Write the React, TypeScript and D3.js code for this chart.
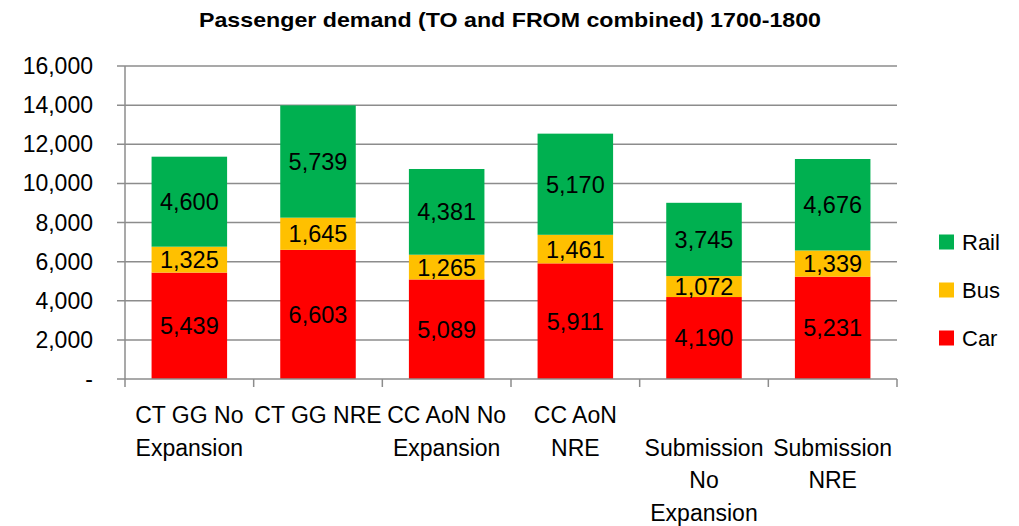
import React, { useEffect, useRef } from "react";
import * as d3 from "d3";

const categories = [
  "CT GG No Expansion",
  "CT GG NRE",
  "CC AoN No Expansion",
  "CC AoN NRE",
  "Submission No Expansion",
  "Submission NRE",
];
const categoryLines = [
  ["CT GG No", "Expansion"],
  ["CT GG NRE"],
  ["CC AoN No", "Expansion"],
  ["CC AoN", "NRE"],
  ["Submission", "No", "Expansion"],
  ["Submission", "NRE"],
];
const categoryLineOffset = [0, 0, 0, 0, 1, 1];
const seriesNames = ["Car", "Bus", "Rail"];
const carValues = [5439, 6603, 5089, 5911, 4190, 5231];
const busValues = [1325, 1645, 1265, 1461, 1072, 1339];
const railValues = [4600, 5739, 4381, 5170, 3745, 4676];
const seriesColors = ["#FF0000", "#FFC000", "#00B050"];
const yTicks = [0, 2000, 4000, 6000, 8000, 10000, 12000, 14000, 16000];
const title = "Passenger demand (TO and FROM combined) 1700-1800";

export default function App() {
  const ref = useRef<SVGSVGElement>(null);
  useEffect(() => {
    const W = 1019, H = 526;
    const left = 125, right = 897, top = 66, bottom = 379;
    const font = "'Liberation Sans', Arial, sans-serif";
    const svg = d3.select(ref.current!);
    svg.selectAll("*").remove();
    svg.append("rect").attr("width", W).attr("height", H).attr("fill", "#fff");

    const x = d3.scaleBand<string>().domain(categories).range([left, right]).padding(0);
    const y = d3.scaleLinear().domain([0, 16000]).range([bottom, top]);
    const grid = "#8c8c8c";

    // gridlines
    svg.append("g").selectAll("line").data(yTicks.filter((t) => t > 0)).join("line")
      .attr("x1", left - 8).attr("x2", right)
      .attr("y1", (d) => y(d)).attr("y2", (d) => y(d))
      .attr("stroke", grid).attr("stroke-width", 1.5);

    // y axis
    svg.append("line").attr("x1", left).attr("x2", left).attr("y1", top).attr("y2", bottom)
      .attr("stroke", grid).attr("stroke-width", 1.5);
    svg.append("line").attr("x1", left - 8).attr("x2", left).attr("y1", bottom).attr("y2", bottom)
      .attr("stroke", grid).attr("stroke-width", 1.5);
    svg.append("g").selectAll("text").data(yTicks).join("text")
      .attr("x", 93).attr("y", (d) => y(d)).attr("dy", "0.35em")
      .attr("text-anchor", "end").attr("font-family", font).attr("font-size", 23)
      .attr("fill", "#000")
      .text((d) => (d === 0 ? "-" : d3.format(",")(d)));

    // stacked bars
    const rows = categories.map((c, i) => ({ cat: c, Car: carValues[i], Bus: busValues[i], Rail: railValues[i] }));
    const stack = d3.stack<any>().keys(seriesNames)(rows);
    const bw = x.bandwidth() * 0.587;
    stack.forEach((layer, si) => {
      const g = svg.append("g");
      g.selectAll("rect").data(layer).join("rect")
        .attr("x", (d: any) => x(d.data.cat)! + (x.bandwidth() - bw) / 2)
        .attr("width", bw)
        .attr("y", (d: any) => y(d[1]))
        .attr("height", (d: any) => y(d[0]) - y(d[1]))
        .attr("fill", seriesColors[si]);
      g.selectAll("text").data(layer).join("text")
        .attr("x", (d: any) => x(d.data.cat)! + x.bandwidth() / 2)
        .attr("y", (d: any) => (y(d[0]) + y(d[1])) / 2)
        .attr("dy", "0.36em")
        .attr("text-anchor", "middle").attr("font-family", font).attr("font-size", 23.5)
        .attr("fill", "#000")
        .text((d: any) => d3.format(",")(d[1] - d[0]));
    });

    // x axis
    svg.append("line").attr("x1", left).attr("x2", right).attr("y1", bottom).attr("y2", bottom)
      .attr("stroke", grid).attr("stroke-width", 1.5);
    const tickXs = categories.map((c) => x(c)!).concat([right]);
    svg.append("g").selectAll("line").data(tickXs).join("line")
      .attr("x1", (d) => d).attr("x2", (d) => d).attr("y1", bottom).attr("y2", bottom + 8)
      .attr("stroke", grid).attr("stroke-width", 1.5);
    categories.forEach((c, i) => {
      categoryLines[i].forEach((ln, j) => {
        svg.append("text")
          .attr("x", x(c)! + x.bandwidth() / 2)
          .attr("y", 415 + (j + categoryLineOffset[i]) * 32.5)
          .attr("dy", "0.35em")
          .attr("text-anchor", "middle").attr("font-family", font).attr("font-size", 23)
          .attr("fill", "#000").text(ln);
      });
    });

    // legend
    const legendOrder = ["Rail", "Bus", "Car"];
    legendOrder.forEach((name, i) => {
      const cy = 242 + i * 48;
      const color = seriesColors[seriesNames.indexOf(name)];
      svg.append("rect").attr("x", 939).attr("y", cy - 7.5).attr("width", 15).attr("height", 15).attr("fill", color);
      svg.append("text").attr("x", 962).attr("y", cy).attr("dy", "0.35em")
        .attr("font-family", font).attr("font-size", 22).attr("fill", "#000").text(name);
    });

    // title
    svg.append("text").attr("x", 510).attr("y", 20).attr("dy", "0.35em")
      .attr("text-anchor", "middle").attr("font-family", font).attr("font-weight", "bold")
      .attr("font-size", 21).attr("textLength", 622).attr("lengthAdjust", "spacingAndGlyphs")
      .attr("fill", "#000").text(title);
  }, []);
  return (
    <svg ref={ref} width={1019} height={526} style={{ position: "absolute", left: 0, top: 0, display: "block" }} />
  );
}
